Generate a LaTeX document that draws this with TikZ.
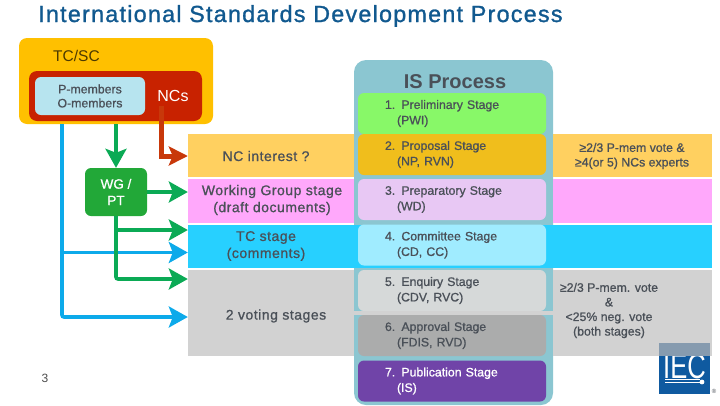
\documentclass[tikz,border=0pt]{standalone}
\usepackage{fontspec}
\setmainfont{Liberation Sans}
\newfontfamily\semifont[FakeBold=0.9]{Liberation Sans}
\newfontfamily\bandfont[FakeBold=0.9,LetterSpace=3.7]{Liberation Sans}
\newfontfamily\titlefont[FakeBold=1.2,LetterSpace=5.4]{Liberation Sans}
\usetikzlibrary{arrows.meta}
\usepackage{xcolor}

\definecolor{titleblue}{HTML}{11598F}
\definecolor{tcgold}{HTML}{FFC000}
\definecolor{ncred}{HTML}{C82200}
\definecolor{memberblue}{HTML}{B7E4EF}
\definecolor{columnteal}{HTML}{8BC6D1}
\definecolor{bandorange}{HTML}{FFD060}
\definecolor{bandpink}{HTML}{FFA8FB}
\definecolor{bandcyan}{HTML}{27D0FF}
\definecolor{bandgray}{HTML}{D2D2D2}
\definecolor{stageone}{HTML}{88F868}
\definecolor{stagetwo}{HTML}{F0BE1C}
\definecolor{stagethree}{HTML}{E8C8F4}
\definecolor{stagefour}{HTML}{A0ECFF}
\definecolor{stagefive}{HTML}{D6D9D9}
\definecolor{stagesix}{HTML}{ABACAC}
\definecolor{stageseven}{HTML}{7044A8}
\definecolor{wggreen}{HTML}{22A838}
\definecolor{linegreen}{HTML}{0BAA55}
\definecolor{lineblue}{HTML}{0DAAEA}
\definecolor{linered}{HTML}{C8380A}
\definecolor{iecblue}{HTML}{0F5AA0}
\definecolor{inkgray}{HTML}{4A5058}

\tikzset{
  stagebox/.style={rounded corners=6pt, minimum height=41pt, text width=134pt, inner xsep=27pt, inner ysep=0pt,
    align=left, text=inkgray, font=\semifont\fontsize{12.3}{15.5}\selectfont},
  bandbox/.style={inner sep=0pt, minimum width=166pt},
  sidebox/.style={inner sep=0pt, minimum width=159pt},
  bandtext/.style={align=center, text=inkgray, font=\bandfont\fontsize{14}{17}\selectfont},
  sidetext/.style={align=center, text=inkgray, font=\semifont\fontsize{12.3}{14.6}\selectfont},
  bluearrow/.style={draw=lineblue, line width=3.6pt, rounded corners=2pt,
    -{Stealth[length=19pt,width=21pt,inset=4pt]}},
  greenarrow/.style={draw=linegreen, line width=3.6pt, rounded corners=2pt,
    -{Stealth[length=19pt,width=21pt,inset=4pt]}},
  redarrow/.style={draw=linered, line width=5pt,
    -{Stealth[length=19pt,width=19pt,inset=4pt]}},
}

\begin{document}
\begin{tikzpicture}[x=1pt,y=-1pt]
\useasboundingbox (0,0) rectangle (720,405);

% Title
\node[anchor=west, inner sep=0pt, text=titleblue, font=\titlefont\fontsize{23.3}{26}\selectfont] (title) at (38,16)
  {International Standards Development Process};

% IS process column
\fill[columnteal, rounded corners=12pt] (354,60) rectangle (553,405);
\fill[bandcyan] (354,225) rectangle (553,268);
\fill[bandgray] (354,311) rectangle (553,315);
\node[font=\bfseries\fontsize{20}{22}\selectfont, text=inkgray] (isprocess) at (455,82) {IS Process};

% Bands, left part
\node[bandbox, fill=bandorange, minimum height=43pt] (ncinterest) at (271,155.5) {};
\node[bandbox, fill=bandpink, minimum height=44pt] (wgstage) at (271,201) {};
\node[bandbox, fill=bandcyan, minimum height=43pt] (tcstage) at (271,246.5) {};
\node[bandbox, fill=bandgray, minimum height=86pt] (votestage) at (271,313) {};
\node[bandtext] (ncinteresttext) at (266,156) {NC interest ?};
\node[bandtext] (wgstagetext) at (272,200) {Working Group stage\\(draft documents)};
\node[bandtext] (tcstagetext) at (266,246) {TC stage\\(comments)};
\node[bandtext] (votestagetext) at (276,316) {2 voting stages};

% Bands, right part
\node[sidebox, fill=bandorange, minimum height=43pt] (propside) at (632.5,155.5) {};
\node[sidebox, fill=bandpink, minimum height=44pt] (wdside) at (632.5,201) {};
\node[sidebox, fill=bandcyan, minimum height=43pt] (cdside) at (632.5,246.5) {};
\node[sidebox, fill=bandgray, minimum height=86pt] (voteside) at (632.5,313) {};
\node[sidetext] (proptext) at (632,156) {≥2/3 P-mem vote \&\\≥4(or 5) NCs experts};
\node[sidetext] (votetext) at (609,310.5) {≥2/3 P-mem. vote\\\&\\<25\% neg. vote\\(both stages)};

% Stages
\node[stagebox, fill=stageone] (stageA) at (452,113.5) {1. Preliminary Stage\\\hspace*{12pt}(PWI)};
\node[stagebox, fill=stagetwo] (stageB) at (452,154.5) {2. Proposal Stage\\\hspace*{12pt}(NP, RVN)};
\node[stagebox, fill=stagethree] (stageC) at (452,199.5) {3. Preparatory Stage\\\hspace*{12pt}(WD)};
\node[stagebox, fill=stagefour] (stageD) at (452,245) {4. Committee Stage\\\hspace*{12pt}(CD, CC)};
\node[stagebox, fill=stagefive] (stageE) at (452,290.5) {5. Enquiry Stage\\\hspace*{12pt}(CDV, RVC)};
\node[stagebox, fill=stagesix] (stageF) at (452,335.5) {6. Approval Stage\\\hspace*{12pt}(FDIS, RVD)};
\node[stagebox, fill=stageseven, text=white] (stageG) at (452,381) {7. Publication Stage\\\hspace*{12pt}(IS)};

% TC/SC block
\node[fill=tcgold, rounded corners=8pt, minimum width=194pt, minimum height=86pt, inner sep=0pt] (tcsc) at (116,81) {};
\node[anchor=west, inner sep=0pt, text=black!70!tcgold, font=\fontsize{15.5}{18}\selectfont] (tcsctext) at (53,56) {TC/SC};
\node[fill=ncred, rounded corners=8pt, minimum width=173pt, minimum height=50pt, inner sep=0pt] (ncblock) at (115.5,96) {};
\node[fill=memberblue, rounded corners=6pt, minimum width=110pt, minimum height=38pt, inner sep=0pt,
  align=center, text=inkgray, font=\semifont\fontsize{12.3}{14}\selectfont] (members) at (90,96) {P-members\\O-members};
\node[text=white, inner sep=0pt, font=\fontsize{16}{18}\selectfont] (ncs) at (173,96) {NCs};

% WG box
\node[fill=wggreen, rounded corners=6pt, minimum width=62pt, minimum height=48pt, inner sep=0pt,
  align=center, text=white, font=\semifont\fontsize{13.5}{16.5}\selectfont] (wgpt) at (116,192) {WG /\\PT};

% Connectors
\coordinate (bluestart) at (62,124);
\coordinate (blueturn) at (62,317);
\coordinate (bluetap) at (62,252.5);
\coordinate (greenstart) at (116,124);
\coordinate (greenturn) at (116,279);
\coordinate (greentap) at (116,230);
\coordinate (redstart) at (161,106);
\coordinate (redturn) at (161,156);
\draw[bluearrow] (bluestart) -- (blueturn) -- (votestage.west |- blueturn);
\draw[bluearrow] (bluetap) -- (tcstage.west |- bluetap);
\draw[greenarrow] (greenstart) -- (wgpt.north);
\draw[greenarrow] (wgpt.east) -- (wgstage.west |- wgpt.east);
\draw[greenarrow] (wgpt.south) -- (greenturn) -- (votestage.west |- greenturn);
\draw[greenarrow] (greentap) -- (tcstage.west |- greentap);
\draw[redarrow] (redstart) -- (redturn) -- (ncinterest.west |- redturn);

% Page number and logo
\node[text=black!70, inner sep=0pt, font=\fontsize{12}{14}\selectfont] (pagenum) at (45,378) {3};
\node[fill=iecblue, minimum size=51pt, inner sep=0pt] (logo) at (684.5,368.5) {};
\node[text=white, inner sep=0pt, xscale=0.73, font=\fontsize{35}{35}\selectfont] (iec) at (684.5,366) {IEC};
\fill[gray!60!iecblue!70] (659,343) rectangle (710,356);
\draw[white, line width=0.8pt] (665,379.5) -- (700,379.5);
\draw[white, line width=0.8pt] (665,382.5) -- (700,382.5);
\fill[white] (702,382) circle (2.4);
\node[text=inkgray, inner sep=0pt, font=\fontsize{6}{6}\selectfont] (regmark) at (714,391) {®};
\end{tikzpicture}
\end{document}
